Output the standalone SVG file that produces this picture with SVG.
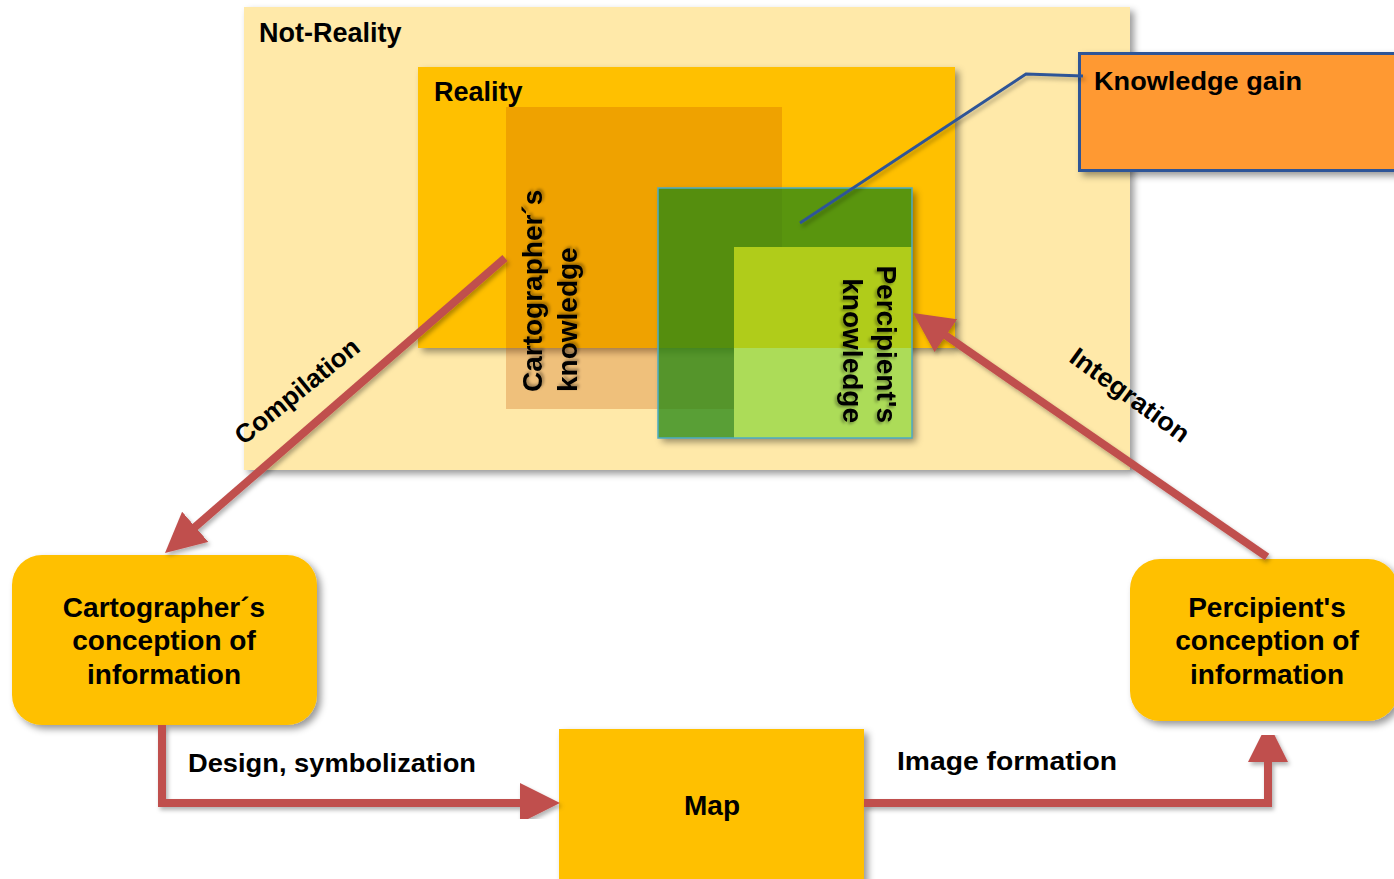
<svg xmlns="http://www.w3.org/2000/svg" width="1394" height="879" viewBox="0 0 1394 879">
<style>
  text { font-family: "Liberation Sans", Arial, sans-serif; font-weight: bold; fill: #000; }
  .node { font-size: 28px; text-anchor: middle; }
  .lbl { font-size: 26px; }
  .conn { fill: none; stroke: #C0504D; stroke-width: 8; stroke-linejoin: miter; marker-end: url(#ah); filter: url(#lsh); }
</style>
<defs>
  <filter id="sh" x="-10%" y="-10%" width="130%" height="130%">
    <feDropShadow dx="4" dy="4" stdDeviation="3.5" flood-color="#000" flood-opacity="0.4"/>
  </filter>
  <filter id="blur" x="-10%" y="-10%" width="130%" height="130%">
    <feGaussianBlur stdDeviation="3.5"/>
  </filter>
  <filter id="lsh" x="-10%" y="-10%" width="130%" height="130%">
    <feDropShadow dx="2" dy="3" stdDeviation="2" flood-color="#000" flood-opacity="0.3"/>
  </filter>
  <filter id="tsh" x="-10%" y="-10%" width="130%" height="130%">
    <feDropShadow dx="2" dy="2" stdDeviation="1.5" flood-color="#000" flood-opacity="0.35"/>
  </filter>
  <mask id="outsideGreen" maskUnits="userSpaceOnUse" x="0" y="0" width="1394" height="879">
    <rect x="0" y="0" width="1394" height="879" fill="#fff"/>
    <rect x="658" y="188" width="254" height="250" fill="#000"/>
  </mask>
  <marker id="ah" viewBox="0 0 10 10" refX="5" refY="5" markerWidth="5" markerHeight="5" orient="auto">
    <path d="M0,0 L10,5 L0,10 z" fill="#C0504D"/>
  </marker>
  <linearGradient id="lightgreen" gradientUnits="userSpaceOnUse" x1="0" y1="247" x2="0" y2="438">
    <stop offset="0" stop-color="#B0CC1A"/>
    <stop offset="0.529" stop-color="#B0CC1A"/>
    <stop offset="0.529" stop-color="#ACDC58"/>
    <stop offset="1" stop-color="#ACDC58"/>
  </linearGradient>
</defs>

<g id="not-reality">
  <rect x="244" y="7" width="886" height="463" fill="#FFE9A9" filter="url(#sh)"/>
  <text x="259" y="42" font-size="27">Not-Reality</text>
</g>

<g id="reality">
  <rect x="418" y="67" width="537" height="281" fill="#FFC000" filter="url(#sh)"/>
  <text x="434" y="101" font-size="27">Reality</text>
</g>

<g id="cartographers-knowledge">
  <rect x="506" y="107" width="276" height="302" fill="#C45200" fill-opacity="0.27"/>
  <text transform="translate(542,392) rotate(-90)" font-size="28" filter="url(#tsh)">Cartographer´s<tspan x="0" dy="35">knowledge</tspan></text>
</g>

<g id="percipients-knowledge">
  <g mask="url(#outsideGreen)">
    <rect x="662" y="192" width="254" height="250" fill="#000" fill-opacity="0.4" filter="url(#blur)"/>
  </g>
  <rect x="658" y="188" width="254" height="250" fill="#258812" fill-opacity="0.76"/>
  <rect x="734" y="247" width="178" height="191" fill="url(#lightgreen)"/>
  <rect x="658" y="188" width="254" height="250" fill="none" stroke="#4BACC6" stroke-width="1.5"/>
  <text transform="translate(877,423) rotate(90)" font-size="28" text-anchor="end" filter="url(#tsh)">Percipient's<tspan x="0" dy="34">knowledge</tspan></text>
</g>

<g id="knowledge-gain">
  <rect x="1079.5" y="53.5" width="330" height="117" fill="#FF9933" stroke="#2F5597" stroke-width="3" filter="url(#sh)"/>
  <text x="1094" y="90" font-size="26" textLength="208" lengthAdjust="spacingAndGlyphs">Knowledge gain</text>
</g>

<g id="cartographer-conception">
  <rect x="12" y="555" width="305" height="170" rx="30" ry="30" fill="#FFC000" filter="url(#sh)"/>
  <text class="node" x="164" y="617">Cartographer´s</text>
  <text class="node" x="164" y="650">conception of</text>
  <text class="node" x="164" y="684">information</text>
</g>

<g id="percipient-conception">
  <rect x="1130" y="559" width="268" height="162" rx="30" ry="30" fill="#FFC000" filter="url(#sh)"/>
  <text class="node" x="1267" y="617">Percipient's</text>
  <text class="node" x="1267" y="650">conception of</text>
  <text class="node" x="1267" y="684">information</text>
</g>

<g id="map">
  <rect x="559" y="729" width="305" height="170" fill="#FFC000" filter="url(#sh)"/>
  <text class="node" x="712" y="815">Map</text>
</g>

<g id="connectors">
  <polyline points="1083,76 1026,74 800,223" fill="none" stroke="#2F5597" stroke-width="3" filter="url(#lsh)"/>
  <line class="conn" x1="505" y1="258" x2="180.1" y2="539.9"/>
  <line class="conn" x1="1267" y1="557" x2="929.5" y2="324.3"/>
  <polyline class="conn" points="162,725 162,803 540,803"/>
  <polyline class="conn" points="864,803 1268,803 1268,742"/>
  <text class="lbl" transform="translate(297,391) rotate(-39)" text-anchor="middle" y="9" textLength="152" lengthAdjust="spacingAndGlyphs">Compilation</text>
  <text class="lbl" transform="translate(1130,395) rotate(36)" text-anchor="middle" y="9" textLength="141" lengthAdjust="spacingAndGlyphs">Integration</text>
  <text class="lbl" x="188" y="772" textLength="288" lengthAdjust="spacingAndGlyphs">Design, symbolization</text>
  <text class="lbl" x="897" y="770" textLength="220" lengthAdjust="spacingAndGlyphs">Image formation</text>
</g>
</svg>
